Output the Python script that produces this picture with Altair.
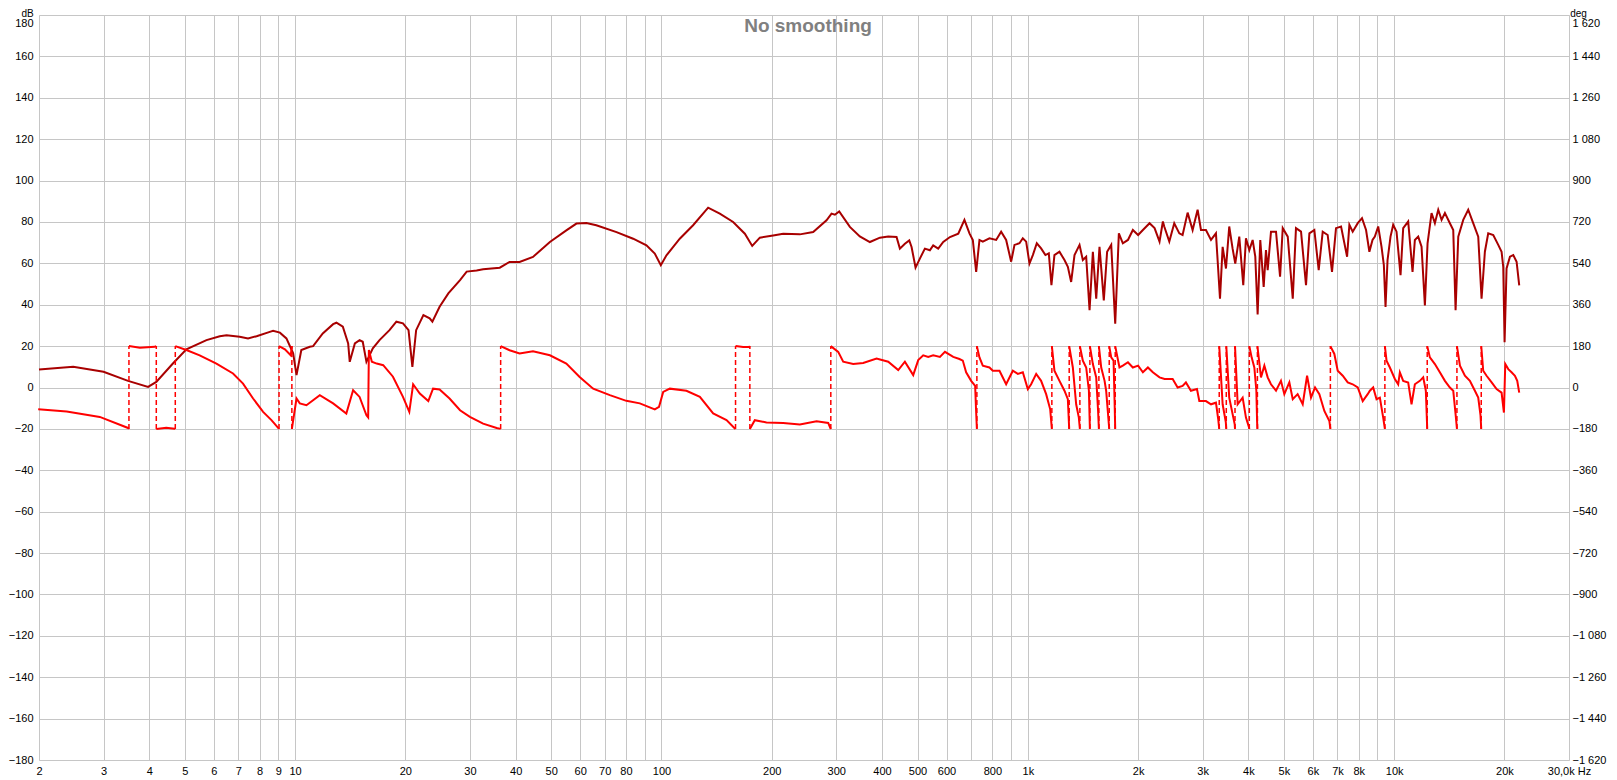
import altair as alt
import pandas as pd

# ---------------- data ----------------
spl_f = [2.0, 2.48, 3.0, 3.5, 3.97, 4.18, 4.64, 5.05, 5.73, 6.23, 6.5, 7.06, 7.44, 7.85, 8.53, 8.71,
         9.09, 9.47, 9.88, 10.09, 10.4, 10.97, 11.2, 11.9, 12.7, 12.97, 13.5, 13.96, 14.1, 14.56, 15.0,
         15.3, 15.66, 16.3, 17.0, 18.1, 18.9, 19.7, 20.4, 20.9, 21.4, 22.4, 23.3, 23.7, 24.8, 26.2, 28.2,
         29.4, 31.3, 32.6, 36.2,
         38.5, 41.0, 44.6, 49.6, 55.0, 58.6, 62.4, 66.4, 75.4, 83.7, 91.0, 95.9, 99.6, 103.2, 112.2, 122,
         134.1, 144.3, 156.9, 168.9, 176.9, 185.6, 201.8, 214.9, 238.7, 259.5, 282.2, 291.2, 297.4, 305.6,
         326.8, 347.9, 370.6, 394.7, 415.9, 438.2, 447.5, 461.8, 474.6, 481.6, 493.8, 507.4, 523.6, 540.3,
         551.7, 569.4, 587.7, 613, 645.9,
         671.4, 693, 707.7, 722.8, 737.9, 753.5, 785.7, 819.5, 845.6, 872.6, 900.5, 919.6, 948.9, 969,
         989.6, 1010.5, 1032, 1058, 1087, 1117, 1141, 1160, 1182, 1220, 1259, 1286, 1313, 1341, 1384, 1413,
         1443, 1474, 1505, 1537, 1569, 1612, 1646, 1689, 1732, 1772, 1817, 1876, 1935, 2000, 2061, 2149,
         2218, 2288, 2337,
         2357, 2433, 2510, 2591, 2645, 2730, 2817, 2907, 2969, 3063, 3162, 3262, 3346, 3402, 3474, 3546,
         3621, 3683, 3777, 3873, 3939, 4023, 4108, 4177, 4239, 4310, 4403, 4467, 4515, 4610, 4758, 4881,
         4963, 5122, 5286, 5394, 5568, 5745, 5868, 6054, 6222, 6381, 6583, 6765, 6937, 7161, 7437, 7545,
         7704, 7953, 8169, 8379, 8556,
         8726, 8855, 9044, 9235, 9371, 9470, 9590, 9772, 9937, 10148, 10406, 10582, 10919, 11222, 11387,
         11629, 11876, 12128, 12333, 12646, 12914, 13189, 13469, 13754, 14191, 14493, 14708, 14958, 15433,
         15924, 16430, 16958, 17316, 17682, 18057, 18638, 19231, 19638, 19845, 20012, 20262, 20701, 21135,
         21582, 21941]
spl_db = [8.7, 10.0, 7.6, 3.2, 0.3, 2.7, 11.6, 18.4, 22.9, 24.8, 25.2, 24.5, 23.7, 24.8, 26.9, 27.4,
          26.5, 23.7, 16.5, 6.0, 18.1, 19.7, 20.0, 26.1, 30.6, 31.3, 29.4, 21.3, 12.4, 21.3, 22.9,
          22.1, 12.4, 18.9, 22.9, 27.7, 31.8, 31.0, 27.7, 10.0, 27.7, 35.0, 33.4, 31.8, 39.0, 45.5, 51.9,
          56.0, 56.5, 57.1, 57.9,
          60.7, 60.7, 63.1, 70.3, 75.9, 79.2, 79.5, 78.4, 75.1, 71.9, 68.7, 64.7, 59.1, 63.9, 71.9, 78.4,
          86.9, 84.0, 80.0, 74.3, 68.4, 72.4, 73.5, 74.3, 74.0, 75.1, 80.8, 84.0, 83.5, 85.1,
          77.6, 73.0, 70.3, 72.4, 73.0, 72.7, 67.1, 69.5, 71.1, 67.9, 57.9, 62.3, 67.1, 66.3,
          68.7, 67.1, 70.3, 72.7, 74.3,
          81.0, 74.5, 71.3, 55.9, 71.3, 70.5, 72.1, 71.3, 75.3, 71.3, 60.8, 68.9, 69.7, 72.1,
          70.5, 59.9, 64.0, 69.7, 67.2, 64.0, 64.8, 49.4, 64.0, 65.6, 61.6, 58.3, 51.0, 64.0, 68.9, 61.6,
          63.2, 37.3, 65.6, 42.9, 68.0, 42.1, 65.6, 68.9, 30.8, 74.5, 69.7, 71.3, 76.1, 73.7, 76.1, 79.4,
          77.0, 70.5, 80.2,
          77.8, 70.5, 79.4, 74.5, 73.7, 84.5, 76.1, 85.9, 76.1, 76.1, 71.3, 74.5, 42.9, 68.0, 57.5, 77.8,
          67.2, 59.9, 72.9, 49.4, 72.1, 66.4, 71.3, 63.2, 35.3, 71.3, 48.6, 66.4, 56.7, 75.3, 75.3, 53.5,
          77.0, 72.9, 42.9, 77.0, 75.3, 49.4, 74.5, 76.1, 56.7, 75.3, 73.7, 55.9, 77.0, 77.8, 63.2, 78.6,
          75.3, 79.4, 81.8, 76.1, 65.6,
          71.3, 72.9, 77.8, 68.0, 59.1, 38.9, 61.6, 72.9, 78.6, 75.3, 54.3, 77.0, 80.2, 55.9, 71.3,
          72.9, 68.0, 39.7, 69.7, 84.3, 79.4, 85.9, 81.0, 84.3, 79.4, 76.1, 37.3, 72.9, 81.0,
          85.9, 79.4, 72.9, 42.9, 65.6, 74.5, 73.7, 68.9, 65.6, 58.3, 21.9, 57.5, 63.2, 64.0,
          60.8, 49.4]

# phase in degrees; two consecutive entries at the same frequency = a wrap (+/-180)
phase_f = [1.99, 2.38, 2.93, 3.5, 3.52, 3.52, 3.77, 4.14, 4.18, 4.18, 4.45, 4.69, 4.71, 4.71, 5.05,
           5.49, 6.10, 6.77, 7.21, 7.68, 8.18, 8.62, 9.04, 9.04, 9.38, 9.73, 9.8, 9.8, 10.09, 10.3, 10.74,
           11.68, 12.7, 13.8, 14.4, 15.0, 15.66, 15.83, 15.9, 16.2, 16.7, 17.4, 18.5, 19.7, 20.5, 21.0,
           21.9, 23.1, 23.8, 24.8, 26.4, 28.2, 30.0, 32.6, 35.5, 36.4, 36.4, 38.5, 41.0, 44.6, 49.6, 55.0,
           59.8, 65.1, 72.3, 80.2, 87.3, 95.9, 98.5, 101.1, 105.4, 117, 127.3, 138.4, 150.5, 158.6, 159.3,
           159.3, 167.1, 173.6, 174.3, 174.3, 179.8, 193.5, 214.9, 238.7, 265.1, 285.2, 289.4, 289.9, 289.9,
           303.7, 313.4, 333.7, 355.3, 386.5, 415.9, 442.9, 461.8, 486.6, 502.2, 518.2, 534.8, 551.7,
           575.5, 594, 625.8, 650.6, 664.5, 678.6, 700.4, 718.2, 722, 726, 726, 737.9, 753.5, 785.7, 802.4,
           836.8, 872.6, 910, 939.1, 969, 1000, 1021, 1054, 1087, 1122, 1151, 1163, 1163, 1182, 1220, 1259,
           1286, 1297, 1297, 1327, 1355, 1378, 1387, 1387, 1413, 1443, 1468, 1477, 1477, 1505, 1537, 1555,
           1563, 1563, 1586, 1620, 1636, 1668, 1668, 1689, 1714, 1725, 1732, 1732, 1779, 1817, 1876, 1935,
           2000, 2061, 2127, 2194, 2288, 2362, 2485, 2564, 2645, 2701, 2787, 2895, 2938, 3063, 3162, 3262,
           3310, 3330, 3330, 3402, 3470, 3481, 3481, 3546, 3670, 3677, 3677, 3739, 3858, 3939, 4010, 4023,
           4023, 4082, 4152, 4205, 4225, 4233, 4233, 4329, 4422, 4515, 4610, 4758, 4908, 5013, 5174, 5286,
           5451, 5627, 5784, 5929, 6081, 6248, 6447, 6654, 6696, 6696, 6865, 7012, 7237, 7467, 7704, 7953,
           8205, 8466, 8582, 8763, 8950, 9139, 9332, 9431, 9431, 9530, 9731, 10042, 10254, 10363, 10582,
           10919, 11151, 11387, 11751, 12000, 12200, 12307, 12307, 12513, 12914, 13322, 13754, 14191,
           14493, 14740, 14833, 14833, 15117, 15596, 16091, 16606, 16958, 17200, 17282, 17282, 17498,
           17870, 18449, 19032, 19638, 19929, 20098, 20482, 20909, 21356, 21669, 21941]
phase_deg = [-95, -104, -128, -176, -180, 180, 173, 177, 180, -180, -175, -179, -180, 180, 163,
             140, 104, 61, 17, -48, -106, -142, -180, 180, 166, 140, 180, -180, -48, -69, -77,
             -33, -69, -113, -12, -41, -121, -130, 163, 112, 104, 97, 47, -41, -106, 14,
             -26, -59, -5, -9, -48, -99, -128, -157, -176, -180, 180, 162, 148, 158, 140, 104,
             46, -5, -33, -58, -69, -95, -84, -19, -5, -14, -41, -113, -142, -178, -180,
             180, 176, 176, 180, -180, -142, -152, -154, -161, -147, -154, -178, -180, 180,
             155, 112, 102, 107, 126, 112, 76, 112, 54, 119, 140, 133, 140,
             133, 155, 133, 124, 117, 66, 29, 7, -90, -180, 180, 131, 95, 87, 73,
             73, 14, 73, 59, 66, -7, 14, 59, 29, -29, -95, -180, 180, 73, 29, -14,
             -51, -180, 180, 87, -73, -131, -180, 180, 117, 87, -14, -180, 180, 102, 44, -100,
             -180, 180, 87, 29, -14, -180, 180, 131, 117, -60, -180, 180, 87, 95, 110, 87,
             95, 66, 87, 66, 44, 37, 37, 0, 7, 22, -14, -7, -59, -59, -73, -66,
             -140, -180, 180, -73, -150, -180, 180, -44, -160, -180, 180, -73, -44, -131, -170, -180,
             180, 131, 87, -14, -150, -180, 180, 44, 95, 44, 14, -14, 29, -29, 22, -51,
             -29, -73, 51, -44, 0, -29, -102, -146, -180, 180, 146, 73, 51, 22, 14, 0,
             -59, -29, -14, 0, -51, -44, -131, -180, 180, 117, 87, 37, 14, 66, 29,
             22, -73, 14, 29, 44, -14, -180, 180, 131, 102, 66, 29, 0,
             -14, -131, -180, 180, 95, 51, 29, -14, -44, -120, -180, 180, 73,
             51, 22, -7, -22, -109, 102, 80, 66, 51, 29, -22]

x_ticks = [2, 3, 4, 5, 6, 7, 8, 9, 10, 20, 30, 40, 50, 60, 70, 80, 90, 100, 200, 300, 400, 500, 600,
           700, 800, 900, 1000, 2000, 3000, 4000, 5000, 6000, 7000, 8000, 9000, 10000, 20000, 30000]
x_labelled = [2, 3, 4, 5, 6, 7, 8, 9, 10, 20, 30, 40, 50, 60, 70, 80, 100, 200, 300, 400, 500, 600,
              800, 1000, 2000, 3000, 4000, 5000, 6000, 7000, 8000, 10000, 20000, 30000]
db_ticks = list(range(-180, 181, 20))
deg_ticks = list(range(-1620, 1621, 180))
title_text = ["No smoothing"]

# ---------------- tables ----------------
spl_df = pd.DataFrame({"f": spl_f, "db": spl_db})
rows, wraps, seg = [], [], 0
for i, (f, d) in enumerate(zip(phase_f, phase_deg)):
    if i > 0 and f == phase_f[i - 1]:
        wraps.append({"f": f, "lo": min(d, phase_deg[i - 1]), "hi": max(d, phase_deg[i - 1])})
        seg += 1
    rows.append({"f": f, "deg": d, "seg": seg})
phase_df = pd.DataFrame(rows)
wrap_df = pd.DataFrame(wraps)
title_df = pd.DataFrame({"t": title_text})

FONT = "Liberation Sans"
GRID = "#c6c6c6"
TOP = 7           # space above the plot area (page margin adds 8)
arr = "[" + ",".join(str(v) for v in x_labelled) + "]"
x_label_expr = (f"indexof({arr}, datum.value) < 0 ? '' : datum.value >= 30000 ? '30,0k Hz' : "
                "datum.value >= 1000 ? (datum.value / 1000) + 'k' : '' + datum.value")

x_scale = alt.Scale(type="log", domain=[2, 30000], nice=False)
x_axis = alt.Axis(values=x_ticks, labelExpr=x_label_expr, grid=True, gridColor=GRID,
                  ticks=False, domain=False, labelPadding=5, labelFontSize=11,
                  labelFont=FONT, labelColor="black", labelOverlap=False,
                  labelFlush=False, title=None)
x_enc = alt.X("f:Q", scale=x_scale, axis=x_axis)

# the top label sits just under its gridline so that the unit text above it stays clear
db_axis = alt.Axis(values=db_ticks, orient="left", grid=True, gridColor=GRID, ticks=False,
                   domain=False, labelPadding=6, labelFontSize=11, labelFont=FONT,
                   labelColor="black", labelOverlap=False,
                   labelBaseline={"condition": {"test": "datum.value >= 180", "value": "top"},
                                  "value": "middle"},
                   labelOffset={"condition": {"test": "datum.value >= 180", "value": 2},
                                "value": 0},
                   title="dB", titleAngle=0,
                   titleX=-12, titleY=-(TOP - 0.5), titleAlign="center", titleBaseline="top",
                   titleFont=FONT, titleFontSize=10, titleFontWeight="normal",
                   titleColor="black")
db_scale = alt.Scale(domain=[-180, 180], nice=False, zero=False)
deg_scale = alt.Scale(domain=[-1620, 1620], nice=False, zero=False)
deg_axis = alt.Axis(values=deg_ticks, orient="right", grid=False, ticks=False, domain=False,
                    labelPadding=3, labelFontSize=11, labelFont=FONT, labelColor="black",
                    labelOverlap=False,
                    labelBaseline={"condition": {"test": "datum.value >= 1620", "value": "top"},
                                   "value": "middle"},
                    labelOffset={"condition": {"test": "datum.value >= 1620", "value": 2},
                                 "value": 0},
                    labelExpr="replace(format(datum.value, ','), ',', ' ')",
                    title="deg", titleAngle=0, titleX=9, titleY=-(TOP - 0.5), titleAlign="center",
                    titleBaseline="top", titleFont=FONT, titleFontSize=10,
                    titleFontWeight="normal", titleColor="black")

spl = alt.Chart(spl_df).mark_line(color="#a80000", strokeWidth=2).encode(
    x=x_enc,
    y=alt.Y("db:Q", scale=db_scale, axis=db_axis),
)
title_mark = alt.Chart(title_df).mark_text(
    font=FONT, fontSize=19, fontWeight="bold", color="#808080", baseline="alphabetic",
    align="center").encode(text="t:N", x=alt.value(769), y=alt.value(17))
left = alt.layer(spl, title_mark)

phase_line = alt.Chart(phase_df).mark_line(color="#ff0000", strokeWidth=2).encode(
    x=x_enc,
    y=alt.Y("deg:Q", scale=deg_scale, axis=deg_axis),
    detail="seg:N",
)
phase_wrap = alt.Chart(wrap_df).mark_rule(color="#ff0000", strokeWidth=1.5, strokeDash=[5, 3]).encode(
    x=x_enc,
    y=alt.Y("lo:Q", scale=deg_scale, axis=deg_axis),
    y2="hi:Q",
)
phase = alt.layer(phase_line, phase_wrap)

chart = alt.layer(left, phase).resolve_scale(y="independent").properties(
    width=1530,
    height=752 - TOP,
    autosize=alt.AutoSizeParams(type="none"),
    padding={"left": 31, "top": TOP, "right": 40, "bottom": 18},
).configure_view(stroke="#a9a9a9", strokeWidth=3).configure(background="white")

chart.save("out.html", embed_options={"renderer": "svg", "actions": False})
